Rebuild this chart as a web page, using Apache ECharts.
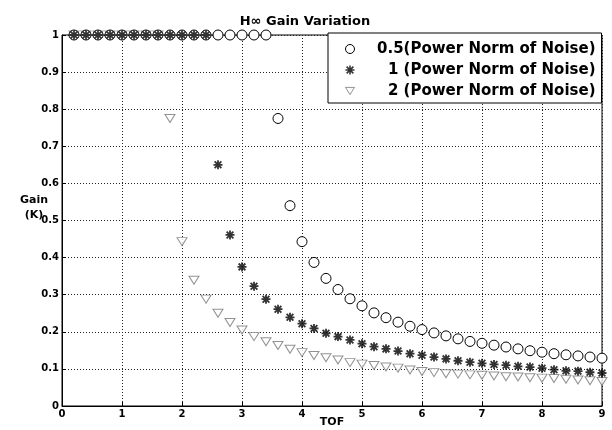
<!DOCTYPE html>
<html>
<head>
<meta charset="utf-8">
<script src="https://cdn.jsdelivr.net/npm/echarts@6/dist/echarts.min.js"></script>
<style>
html,body{margin:0;padding:0;background:#fff;}
#chart{width:612px;height:430px;}
</style>
</head>
<body>
<div id="chart"></div>
<script>
const tof = [0.2,0.4,0.6,0.8,1.0,1.2,1.4,1.6,1.8,2.0,2.2,2.4,2.6,2.8,3.0,3.2,3.4,3.6,3.8,4.0,4.2,4.4,4.6,4.8,5.0,5.2,5.4,5.6,5.8,6.0,6.2,6.4,6.6,6.8,7.0,7.2,7.4,7.6,7.8,8.0,8.2,8.4,8.6,8.8,9.0];
const gainNoise05 = [1,1,1,1,1,1,1,1,1,1,1,1,1,1,1,1,1,
  0.775,0.540,0.443,0.387,0.344,0.314,0.289,0.270,0.251,0.238,0.226,0.215,0.206,0.197,0.189,0.181,0.174,0.169,0.164,0.159,0.154,0.149,0.145,0.141,0.138,0.135,0.132,0.129];
const gainNoise1 = [1,1,1,1,1,1,1,1,1,1,1,1,
  0.650,0.461,0.375,0.323,0.288,0.261,0.239,0.222,0.209,0.196,0.187,0.178,0.168,0.160,0.154,0.148,0.141,0.137,0.132,0.127,0.122,0.118,0.115,0.112,0.110,0.107,0.105,0.102,0.098,0.095,0.094,0.091,0.089];
const gainNoise2 = [1,1,1,1,1,1,1,1,
  0.775,0.443,0.339,0.288,0.250,0.225,0.205,0.187,0.173,0.163,0.153,0.144,0.136,0.130,0.124,0.117,0.113,0.109,0.105,0.102,0.097,0.093,0.090,0.087,0.086,0.084,0.083,0.081,0.079,0.078,0.076,0.075,0.074,0.072,0.070,0.068,0.066];
const seriesNames = ['0.5(Power Norm of Noise)','1 (Power Norm of Noise)','2 (Power Norm of Noise)'];
const xTicks = [0,1,2,3,4,5,6,7,8,9];

function pairs(ys){ return tof.map((x,i)=>[x, ys[i]]); }

const starPath = 'path://M0,-10L0,10M-10,0L10,0M-7.5,-7.5L7.5,7.5M-7.5,7.5L7.5,-7.5';
const triDownPath = 'path://M0,0L10,0L5,8Z';
const font = 'DejaVu Sans, Verdana, sans-serif';

const chart = echarts.init(document.getElementById('chart'), null, {renderer:'canvas'});
chart.setOption({
  animation:false,
  backgroundColor:'#fff',
  title:{
    text:'H\u221E Gain Variation',
    left:300, top:10, textAlign:'center',
    textStyle:{fontFamily:font,fontWeight:'bold',fontSize:13,color:'#000'}
  },
  graphic:[{
    type:'text', x:34, y:193, silent:true,
    style:{text:'Gain\n(K)', align:'center', verticalAlign:'top', lineHeight:15,
      fontFamily:font, fontWeight:'bold', fontSize:11, fill:'#000'}
  }],
  grid:{left:62,right:10,top:35,bottom:24,outerBoundsMode:'none',containLabel:false,
    show:true,borderColor:'#000',borderWidth:1,backgroundColor:'transparent'},
  legend:{
    orient:'vertical', left:328, top:33,
    padding:[7,6,3,15],
    itemWidth:9, itemHeight:9, itemGap:3,
    backgroundColor:'#fff', borderColor:'#000', borderWidth:1,
    data:[
      {name:seriesNames[0], icon:'circle', itemStyle:{color:'#fff',borderColor:'#000',borderWidth:1}},
      {name:seriesNames[1], icon:starPath, itemStyle:{color:'none',borderColor:'#000',borderWidth:1.6}},
      {name:seriesNames[2], icon:triDownPath, itemStyle:{color:'#fff',borderColor:'#777',borderWidth:1}}
    ],
    textStyle:{fontFamily:font,fontWeight:'bold',fontSize:15,color:'#000',lineHeight:18,
      rich:{r:{width:236,align:'right',fontFamily:font,fontWeight:'bold',fontSize:15,lineHeight:18}}},
    formatter:function(n){return '{r|'+n+'}';}
  },
  xAxis:{
    type:'value', min:0, max:9, interval:1,
    name:'TOF', nameLocation:'middle', nameGap:11, nameMoveOverlap:false,
    nameTextStyle:{fontFamily:font,fontWeight:'bold',fontSize:11,color:'#000'},
    axisLine:{show:true,lineStyle:{color:'#000',width:1}},
    axisTick:{show:true,inside:true,length:4,lineStyle:{color:'#000'}},
    axisLabel:{fontFamily:font,fontWeight:'bold',fontSize:10,color:'#000',margin:3,
      formatter:function(v){return xTicks.indexOf(v)>=0?String(v):'';}},
    splitLine:{show:true,lineStyle:{color:'#222',type:[1,2],width:1}}
  },
  yAxis:{
    type:'value', min:0, max:1, interval:0.1,
    axisLine:{show:true,lineStyle:{color:'#000',width:1}},
    axisTick:{show:true,inside:true,length:4,lineStyle:{color:'#000'}},
    axisLabel:{fontFamily:font,fontWeight:'bold',fontSize:10,color:'#000',margin:3,
      formatter:function(v){return String(Math.round(v*10)/10);}},
    splitLine:{show:true,lineStyle:{color:'#222',type:[1,2],width:1}}
  },
  series:[
    {
      name:seriesNames[0], type:'scatter', data:pairs(gainNoise05), z:3,
      symbol:'circle', symbolSize:10,
      itemStyle:{color:'#fff',opacity:1,borderColor:'#000',borderWidth:1}
    },
    {
      name:seriesNames[1], type:'scatter', data:pairs(gainNoise1), z:4,
      symbol:starPath, symbolSize:9,
      itemStyle:{color:'none',borderColor:'#000',borderWidth:1.8}
    },
    {
      name:seriesNames[2], type:'scatter', data:pairs(gainNoise2), z:2,
      symbol:'triangle', symbolRotate:180, symbolSize:[10,8],
      itemStyle:{color:'#fff',borderColor:'#777',borderWidth:1}
    }
  ]
});
</script>
</body>
</html>
